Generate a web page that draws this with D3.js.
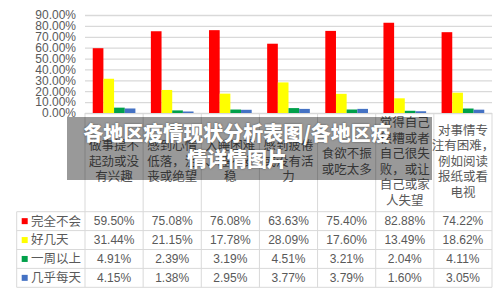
<!DOCTYPE html>
<html>
<head>
<meta charset="utf-8">
<script src="https://cdn.jsdelivr.net/npm/d3@7"></script>
<style>
  html, body { margin: 0; padding: 0; background: #fff; }
  #wrap { position: relative; width: 500px; height: 298px; overflow: hidden; }
  #chart { display: block; }
  .overlay {
    position: absolute; left: 67px; top: 117px; width: 365px; height: 63px;
    background: rgba(0,0,0,0.4);
  }
  .title {
    position: absolute; left: 27px; top: 120px; width: 420px;
    text-align: center; color: #fff; font-weight: 900;
    font-family: "Noto Sans CJK SC", sans-serif; font-size: 20px; line-height: 26px;
    text-shadow: 0 0 2px rgba(0,0,0,0.5);
  }
</style>
</head>
<body>
<div id="wrap">
  <svg id="chart" width="500" height="298"></svg>
  <div class="overlay"></div>
  <div class="title">各地区疫情现状分析表图/各地区疫<br>情详情图片</div>
</div>
<script>
// categories (each split into the lines shown under the axis)
const categories = [
  ["做事提不", "起劲或没", "有兴趣"],
  ["感到心情", "低落，沮", "丧或绝望"],
  ["入睡困难", "、睡不安", "稳"],
  ["感到疲倦", "或没有活", "力"],
  ["食欲不振", "或吃太多"],
  ["觉得自己", "很糟或者", "自己很失", "败，或让", "自己或家", "人失望"],
  ["对事情专", "注有困难，", "例如阅读", "报纸或看", "电视"]
];
const seriesNames = ["完全不会", "好几天", "一周以上", "几乎每天"];
const seriesColors = ["#ff0000", "#ffff00", "#00a04a", "#4472c4"];

const never    = [59.50, 75.08, 76.08, 63.63, 75.40, 82.88, 74.22];
const someDays = [31.44, 21.15, 17.78, 28.09, 17.60, 13.49, 18.62];
const overWeek = [4.91, 2.39, 3.19, 4.51, 3.21, 2.04, 4.11];
const daily    = [4.15, 1.38, 2.95, 3.77, 3.79, 1.60, 3.05];
const values = [never, someDays, overWeek, daily];

const yTicks = [0, 10, 20, 30, 40, 50, 60, 70, 80, 90];

const svg = d3.select("#chart");
const gray = "#595959", lineColor = "#d9d9d9";
const numFont = "'Liberation Sans', Arial, sans-serif";
const cjkFont = "'Noto Sans CJK SC', sans-serif";

const plotLeft = 85, plotRight = 492, plotTop = 15, plotBase = 113;
const idx = d3.range(categories.length);

const x0 = d3.scaleBand().domain(idx).range([plotLeft, plotRight]).padding(0);
const bw = x0.bandwidth();
const x1 = d3.scaleBand().domain(d3.range(seriesNames.length))
  .range([bw * 0.133, bw * 0.867]).padding(0);
const y = d3.scaleLinear().domain([0, 90]).range([plotBase, plotTop]);

// gridlines + y labels
const yAxis = svg.append("g")
  .attr("transform", `translate(${plotLeft},0)`)
  .call(d3.axisLeft(y).tickValues(yTicks).tickSize(-(plotRight - plotLeft)).tickPadding(9)
    .tickFormat(d => d.toFixed(2) + "%"));
yAxis.select(".domain").remove();
yAxis.selectAll("line").attr("stroke", lineColor).attr("stroke-width", 1.3);
yAxis.selectAll("text").attr("fill", gray).style("font-family", numFont).style("font-size", "12px");

// bars
values.forEach((vals, s) => {
  svg.append("g").selectAll("rect")
    .data(vals)
    .join("rect")
    .attr("x", (d, i) => x0(i) + x1(s))
    .attr("width", x1.bandwidth())
    .attr("y", d => y(d))
    .attr("height", d => plotBase - y(d))
    .attr("fill", seriesColors[s]);
});

// table
const rows = d3.scaleBand().domain(d3.range(seriesNames.length)).range([211.7, 287.3]);
const tableLeft = 16.7;
const g = svg.append("g");

// vertical column lines
idx.concat([categories.length]).forEach(i => {
  const xv = plotLeft + i * bw;
  g.append("line").attr("x1", xv).attr("x2", xv).attr("y1", plotBase).attr("y2", rows.range()[1])
    .attr("stroke", lineColor);
});
g.append("line").attr("x1", tableLeft).attr("x2", tableLeft)
  .attr("y1", rows.range()[0]).attr("y2", rows.range()[1]).attr("stroke", lineColor);
// horizontal row lines
d3.range(seriesNames.length + 1).forEach(r => {
  const yv = rows.range()[0] + r * rows.bandwidth();
  g.append("line").attr("x1", tableLeft).attr("x2", plotRight).attr("y1", yv).attr("y2", yv)
    .attr("stroke", lineColor);
});

// category labels
categories.forEach((lines, i) => {
  const lh = 15.5, cy = 161.5;
  const t = svg.append("text")
    .attr("text-anchor", "middle")
    .attr("fill", gray)
    .style("font-family", cjkFont)
    .style("font-size", "12.5px");
  lines.forEach((s, k) => {
    t.append("tspan")
      .attr("x", x0(i) + bw / 2)
      .attr("y", cy + (k - (lines.length - 1) / 2) * lh)
      .attr("dy", "0.35em")
      .text(s);
  });
});

// legend + values
seriesNames.forEach((name, s) => {
  const cy = rows(s) + rows.bandwidth() / 2;
  svg.append("rect").attr("x", 21.7).attr("y", cy - 3).attr("width", 6).attr("height", 6)
    .attr("fill", seriesColors[s]);
  svg.append("text").attr("x", 31).attr("y", cy).attr("dy", "0.35em")
    .attr("fill", gray).style("font-family", cjkFont).style("font-size", "12.5px")
    .text(name);
  values[s].forEach((v, i) => {
    svg.append("text").attr("x", x0(i) + bw / 2).attr("y", cy).attr("dy", "0.35em")
      .attr("text-anchor", "middle").attr("fill", gray)
      .style("font-family", numFont).style("font-size", "12px")
      .text(v.toFixed(2) + "%");
  });
});
</script>
</body>
</html>
